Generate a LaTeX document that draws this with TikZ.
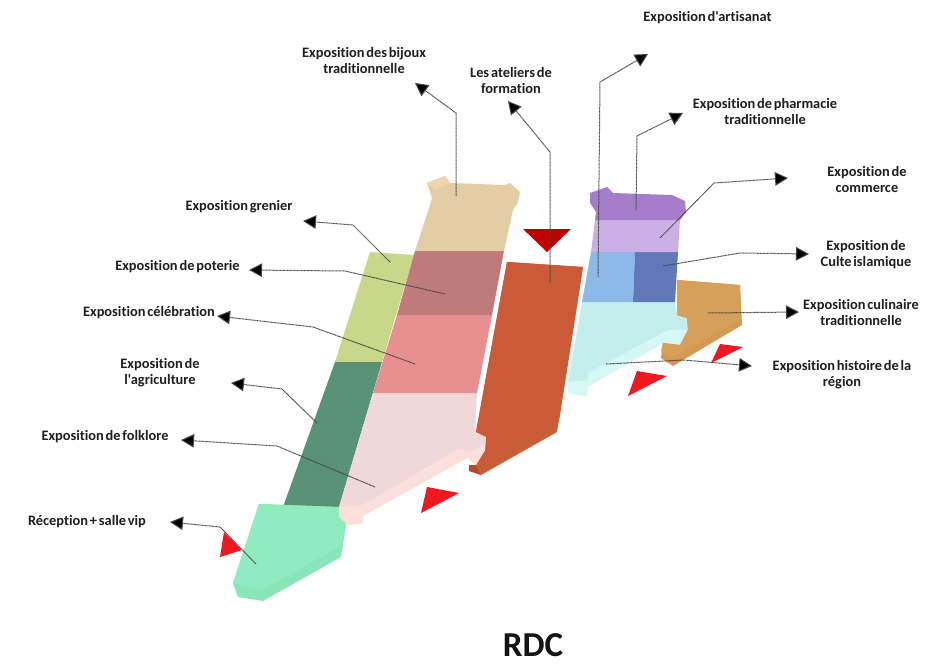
\documentclass[tikz,border=0pt]{standalone}
\usepackage{fontspec}
\setmainfont{Carlito}[WordSpace=0.55,Ligatures={TeXOff,NoCommon}]
\usetikzlibrary{arrows.meta}
\tikzset{
  lbl/.style={font=\bfseries\fontsize{14.4}{16}\selectfont,align=center,text=black!88,inner sep=0pt},
  conn/.style={draw=black!72,line width=1pt,dash pattern=on 0.9pt off 0.5pt,-{Triangle[length=13pt,width=13.5pt,fill=black]}}
}
\definecolor{cBeige}{HTML}{E2CDA5}\definecolor{cBeigeL}{HTML}{EBD6AE}
\definecolor{cRose}{HTML}{BF7A7A}\definecolor{cSalmon}{HTML}{E89090}
\definecolor{cPale}{HTML}{F0D8D8}\definecolor{cPaleL}{HTML}{FADFDA}
\definecolor{cOlive}{HTML}{C8D78A}\definecolor{cDGreen}{HTML}{5A9278}
\definecolor{cMint}{HTML}{90EBBE}\definecolor{cMintD}{HTML}{88E6B8}
\definecolor{cBrick}{HTML}{CA5A38}\definecolor{cBrickS}{HTML}{C85E36}\definecolor{cBrickD}{HTML}{B84A2A}
\definecolor{cPurple}{HTML}{A67DCB}\definecolor{cLilac}{HTML}{CBB0E6}
\definecolor{cBlue}{HTML}{8DB9E8}\definecolor{cDBlue}{HTML}{6078B8}
\definecolor{cCyan}{HTML}{C3EEEC}\definecolor{cCyanL}{HTML}{D5F8F6}
\definecolor{cTan}{HTML}{D69F5A}\definecolor{cTanD}{HTML}{D29A52}
\definecolor{cRed}{HTML}{F01820}\definecolor{cDRed}{HTML}{C00000}
\begin{document}
\begin{tikzpicture}[x=1pt,y=-1pt]
\useasboundingbox (0,0) rectangle (935,667);
\fill[white] (0,0) rectangle (935,667);
% left wing
\fill[cOlive] (370,252)--(414,255)--(382,362)--(335,362)--cycle;
\fill[cDGreen] (335,362)--(382,362)--(339,507)--(283,507)--cycle;
% reception
\fill[cMintD] (259,504)--(339,507)--(346,525)--(341,557)--(263,601)--(238,597)--(233,583)--cycle;
\fill[cMint] (259,504)--(339,507)--(346,525)--(341,546)--(262,590)--(236,584)--(233,583)--cycle;
% orange wing
\fill[cBrickD] (469,465)--(482,465)--(481,475)--(469,471)--cycle;
\fill[cBrickS] (507,262)--(583,267)--(557,432)--(481,475)--(476,465)--(485,450)--(486,437)--(476,432)--cycle;
\fill[cBrick] (507,262)--(583,267)--(559,421)--(482,465)--(476,465)--(485,450)--(486,437)--(476,432)--cycle;
% central wing
\fill[cPale] (373,393)--(477,393)--(475,432)--(486,437)--(485,450)--(476,465)--(459,449)--(363,505)--(363,523)--(348,525)--(339,517)--(339,507)--cycle;
\fill[cPaleL] (485,444)--(485,450)--(476,465)--(469,457)--(363,516)--(363,505)--(459,449)--(470,452)--cycle;
\fill[cPaleL] (339,507)--(363,505)--(363,523)--(348,525)--(339,517)--cycle;
\fill[cSalmon] (397,315)--(492,315)--(477,393)--(373,393)--cycle;
\fill[cRose] (415,251)--(504,251)--(492,315)--(397,315)--cycle;
\fill[cBeige] (427,183)--(445,176)--(450,183)--(505,185)--(510,183)--(520,192)--(518,202)--(513,210)--(504,251)--(415,251)--(430,205)--(432,198)--cycle;
\fill[cBeigeL] (427,183)--(445,176)--(450,183)--(436,190)--cycle;
% right wing
\fill[cCyan] (582,302)--(675,302)--(677,315)--(687,318)--(688,330)--(680,345)--(663,343)--(587,387)--(587,396)--(568,393)--(568,382)--cycle;
\fill[cCyanL] (588,373)--(668,330)--(688,330)--(680,345)--(663,343)--(587,387)--cycle;
\fill[cCyanL] (568,382)--(587,380)--(587,396)--(568,393)--cycle;
\fill[cTanD] (677,280)--(740,285)--(742,325)--(673,366)--(661,358)--(663,343)--(680,345)--(688,330)--(687,318)--(677,315)--cycle;
\fill[cTan] (677,280)--(740,285)--(741,319)--(672,358)--(661,351)--(663,343)--(680,345)--(688,330)--(687,318)--(677,315)--cycle;
\fill[cBlue] (591,252)--(635,252)--(633,302)--(582,302)--cycle;
\fill[cDBlue] (635,252)--(678,252)--(675,302)--(633,302)--cycle;
\fill[cLilac] (595,220)--(680,220)--(678,252)--(591,252)--cycle;
\fill[cPurple] (590,193)--(607,187)--(613,193)--(672,195)--(685,201)--(686,212)--(680,220)--(595,220)--(596,212)--(590,203)--cycle;
% viewpoint triangles
\fill[cDRed] (523,229)--(571,229)--(547,252)--cycle;
\fill[cRed] (224,532)--(242,550)--(220,557)--cycle;
\fill[cRed] (427,487)--(459,493)--(421,513)--cycle;
\fill[cRed] (637,371)--(667,376)--(628,396)--cycle;
\fill[cRed] (720,344)--(743,347)--(711,363)--cycle;
% labels
\node[lbl] (lArt) at (707.5,18) {Exposition d'artisanat};
\node[lbl] (lBij) at (364,60) {Exposition des bijoux\\traditionnelle};
\node[lbl] (lAte) at (511,80) {Les ateliers de\\formation};
\node[lbl] (lPha) at (765,111) {Exposition de pharmacie\\traditionnelle};
\node[lbl] (lCom) at (867,179) {Exposition de\\commerce};
\node[lbl] (lGre) at (239,207) {Exposition grenier};
\node[lbl] (lCul) at (866,255) {Exposition de\\Culte islamique};
\node[lbl] (lPot) at (177.5,267) {Exposition de poterie};
\node[lbl] (lCui) at (861,312) {Exposition culinaire\\traditionnelle};
\node[lbl] (lCel) at (149,313) {Exposition célébration};
\node[lbl] (lHis) at (842,375) {Exposition histoire de la\\région};
\node[lbl] (lAgr) at (160,373) {Exposition de\\l'agriculture};
\node[lbl] (lFol) at (105,437) {Exposition de folklore};
\node[lbl] (lRec) at (87,522) {Réception + salle vip};
\node[font=\bfseries\fontsize{35}{38}\selectfont,text=black!92,inner sep=0pt] (lRdc) at (533,645) {RDC};
% connector anchors
\coordinate (sBij) at (456,196); \coordinate (bBij) at (456,113); \coordinate (eBij) at (415,83);
\coordinate (sAte) at (550,282); \coordinate (bAte) at (550,152); \coordinate (eAte) at (508,101);
\coordinate (sArt) at (598,277); \coordinate (bArt) at (600,82);  \coordinate (eArt) at (648,54);
\coordinate (sPha) at (636,210); \coordinate (bPha) at (637,136); \coordinate (ePha) at (683,113);
\coordinate (sCom) at (660,238); \coordinate (bCom) at (714,183); \coordinate (eCom) at (788,178);
\coordinate (sCul) at (663,266); \coordinate (bCul) at (740,253); \coordinate (eCul) at (809,254);
\coordinate (sCui) at (708,313); \coordinate (eCui) at (799,312);
\coordinate (sHis) at (606,364); \coordinate (bHis) at (684,360); \coordinate (eHis) at (752,366);
\coordinate (sGre) at (390,262); \coordinate (bGre) at (353,225); \coordinate (eGre) at (303,221);
\coordinate (sPot) at (445,294); \coordinate (bPot) at (345,271); \coordinate (ePot) at (249,270);
\coordinate (sCel) at (415,364); \coordinate (bCel) at (313,327); \coordinate (eCel) at (217,316);
\coordinate (sAgr) at (317,423); \coordinate (bAgr) at (282,389); \coordinate (eAgr) at (231,383);
\coordinate (sFol) at (375,487); \coordinate (bFol) at (277,446); \coordinate (eFol) at (181,440);
\coordinate (sRec) at (256,564); \coordinate (bRec) at (220,527); \coordinate (eRec) at (170,522);
\draw[conn] (sBij)--(bBij)--(eBij);
\draw[conn] (sAte)--(bAte)--(eAte);
\draw[conn] (sArt)--(bArt)--(eArt);
\draw[conn] (sPha)--(bPha)--(ePha);
\draw[conn] (sCom)--(bCom)--(eCom);
\draw[conn] (sCul)--(bCul)--(eCul);
\draw[conn] (sCui)--(eCui);
\draw[conn] (sHis)--(bHis)--(eHis);
\draw[conn] (sGre)--(bGre)--(eGre);
\draw[conn] (sPot)--(bPot)--(ePot);
\draw[conn] (sCel)--(bCel)--(eCel);
\draw[conn] (sAgr)--(bAgr)--(eAgr);
\draw[conn] (sFol)--(bFol)--(eFol);
\draw[conn] (sRec)--(bRec)--(eRec);
\end{tikzpicture}
\end{document}
